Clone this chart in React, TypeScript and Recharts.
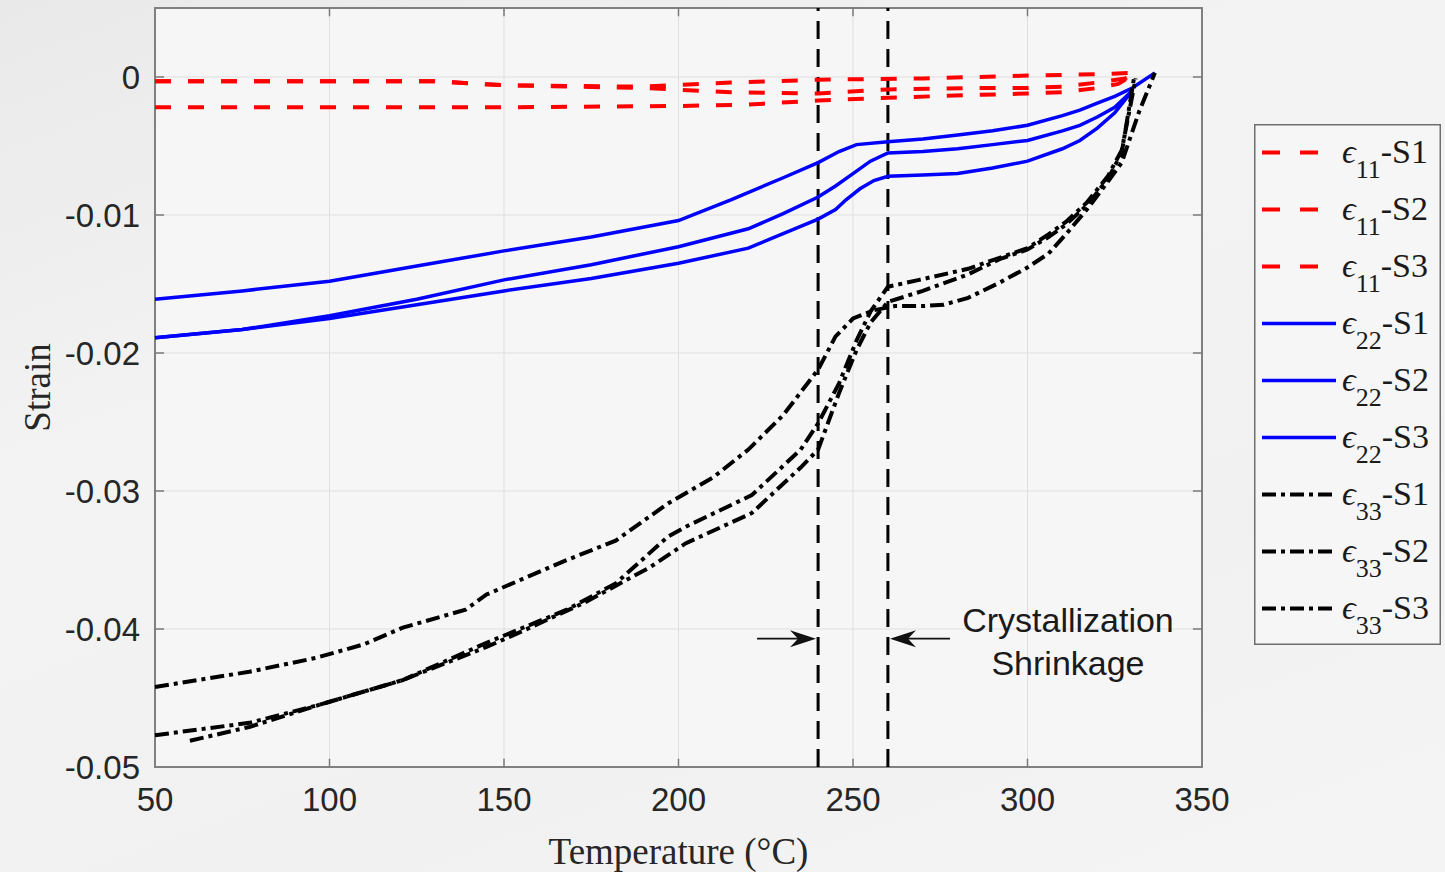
import React from "react";
import { LineChart, Line, XAxis, YAxis, CartesianGrid, ReferenceLine, ReferenceArea, ReferenceDot } from "recharts";

const xTicks = [50, 100, 150, 200, 250, 300, 350];
const yTicks = [-0.05, -0.04, -0.03, -0.02, -0.01, 0];

// e11 (red, dashed)
const e11S1T = [50, 100, 130, 150, 190, 215, 240, 270, 300, 320, 330];
const e11S1 = [-0.0003, -0.0003, -0.0003, -0.0006, -0.0007, -0.0004, -0.0002, -0.0001, 0.0001, 0.0002, 0.0003];
const e11S2T = [50, 100, 130, 150, 190, 215, 240, 260, 285, 300, 310, 320, 328, 330];
const e11S2 = [-0.0003, -0.0003, -0.0003, -0.0006, -0.0008, -0.0011, -0.0012, -0.0009, -0.0008, -0.0008, -0.0007, -0.0004, -0.0001, 0.0002];
const e11S3T = [50, 100, 150, 200, 220, 240, 260, 285, 300, 310, 320, 326, 330];
const e11S3 = [-0.0022, -0.0022, -0.0022, -0.0021, -0.002, -0.0017, -0.0015, -0.0013, -0.0012, -0.0011, -0.0008, -0.0005, 0.0001];

// e22 (blue, solid)
const e22S1T = [50, 75, 100, 125, 150, 175, 200, 215, 230, 240, 246, 251, 260, 270, 280, 290, 300, 310, 315, 320, 325, 330, 336.5];
const e22S1 = [-0.0161, -0.0155, -0.0148, -0.0137, -0.0126, -0.0116, -0.0104, -0.0089, -0.0073, -0.0062, -0.0054, -0.0049, -0.0047, -0.0045, -0.0042, -0.0039, -0.0035, -0.0028, -0.0024, -0.0019, -0.0014, -0.0008, 0.0003];
const e22S2T = [50, 75, 100, 125, 150, 175, 200, 220, 230, 240, 245, 250, 255, 260, 270, 280, 290, 300, 310, 315, 320, 325, 330];
const e22S2 = [-0.0189, -0.0183, -0.0173, -0.0161, -0.0147, -0.0136, -0.0123, -0.011, -0.0099, -0.0087, -0.0079, -0.007, -0.0061, -0.0055, -0.0054, -0.0052, -0.0049, -0.0046, -0.0039, -0.0035, -0.0029, -0.0022, -0.001];
const e22S3T = [50, 75, 100, 125, 150, 175, 200, 220, 240, 245, 248, 252, 256, 260, 270, 280, 290, 300, 310, 315, 320, 325, 330];
const e22S3 = [-0.0189, -0.0183, -0.0175, -0.0165, -0.0155, -0.0146, -0.0135, -0.0124, -0.0103, -0.0096, -0.0089, -0.0081, -0.0075, -0.0072, -0.0071, -0.007, -0.0066, -0.0061, -0.0052, -0.0046, -0.0037, -0.0026, -0.001];

// e33 (black, dash-dot)
const e33S1T = [50, 77, 96, 110, 121, 139, 145, 168, 182, 197, 210, 220, 230, 240, 245, 250, 256, 262, 270, 276, 283, 292, 300, 306, 311, 317, 323, 327, 332, 336.5];
const e33S1 = [-0.0442, -0.0431, -0.0421, -0.0411, -0.0399, -0.0386, -0.0375, -0.035, -0.0336, -0.0309, -0.029, -0.027, -0.0245, -0.0212, -0.0188, -0.0175, -0.0169, -0.0166, -0.0166, -0.0165, -0.016, -0.0149, -0.0138, -0.0128, -0.0114, -0.0096, -0.0076, -0.0062, -0.0025, 0.0003];
const e33S2T = [50, 77, 97, 121, 145, 168, 182, 197, 202, 221, 235, 240, 246, 251, 255, 260, 269, 283, 292, 300, 306, 311, 317, 323, 327, 331];
const e33S2 = [-0.0477, -0.0468, -0.0455, -0.0437, -0.041, -0.0386, -0.0367, -0.0333, -0.0326, -0.0303, -0.027, -0.0251, -0.0222, -0.0191, -0.017, -0.0152, -0.0147, -0.0139, -0.0131, -0.0124, -0.0114, -0.0105, -0.0091, -0.0072, -0.0053, -0.0001];
const e33S3T = [60, 77, 97, 121, 145, 154, 173, 192, 202, 221, 235, 240, 246, 251, 255, 260, 265, 270, 283, 292, 300, 306, 311, 317, 323, 327, 330.5];
const e33S3 = [-0.0481, -0.0471, -0.0455, -0.0437, -0.0413, -0.0403, -0.0381, -0.0355, -0.0338, -0.0316, -0.0283, -0.027, -0.0229, -0.0198, -0.0178, -0.0163, -0.0159, -0.0155, -0.0143, -0.0132, -0.0125, -0.0116, -0.0107, -0.0093, -0.0074, -0.0055, -0.0001];

const shrinkStart = 240;
const shrinkEnd = 260;

const RED = "#ff0000";
const BLUE = "#0000ff";
const BLACK = "#000000";

const pts = (t: number[], v: number[]) => t.map((x, i) => ({ t: x, v: v[i] }));

const series = [
  { name: "11-S1", data: pts(e11S1T, e11S1), color: RED, dash: "16 17", width: 4, legendDash: "18 20", legendLen: 56 },
  { name: "11-S2", data: pts(e11S2T, e11S2), color: RED, dash: "16 17", width: 4, legendDash: "18 20", legendLen: 56 },
  { name: "11-S3", data: pts(e11S3T, e11S3), color: RED, dash: "16 17", width: 4, legendDash: "18 20", legendLen: 56 },
  { name: "22-S1", data: pts(e22S1T, e22S1), color: BLUE, dash: undefined, width: 3.5, legendDash: undefined, legendLen: 74 },
  { name: "22-S2", data: pts(e22S2T, e22S2), color: BLUE, dash: undefined, width: 3.5, legendDash: undefined, legendLen: 74 },
  { name: "22-S3", data: pts(e22S3T, e22S3), color: BLUE, dash: undefined, width: 3.5, legendDash: undefined, legendLen: 74 },
  { name: "33-S1", data: pts(e33S1T, e33S1), color: BLACK, dash: "14 5 4 5", width: 4, legendDash: "14 5 4 5", legendLen: 70 },
  { name: "33-S2", data: pts(e33S2T, e33S2), color: BLACK, dash: "14 5 4 5", width: 4, legendDash: "14 5 4 5", legendLen: 70 },
  { name: "33-S3", data: pts(e33S3T, e33S3), color: BLACK, dash: "14 5 4 5", width: 4, legendDash: "14 5 4 5", legendLen: 70 },
];

const SANS = "'Liberation Sans', Arial, Helvetica, sans-serif";
const SERIF = "'Liberation Serif', 'Times New Roman', 'DejaVu Serif', serif";

// arrow with notched head, drawn from segment end points
function Arrow(props: any) {
  const { x1, y1, x2, y2 } = props;
  if (x1 == null || x2 == null) return null;
  const ang = Math.atan2(y2 - y1, x2 - x1);
  const ux = Math.cos(ang);
  const uy = Math.sin(ang);
  const L = 26;
  const W = 8.5;
  const bx = x2 - ux * L;
  const by = y2 - uy * L;
  const nx = x2 - ux * (L - 8);
  const ny = y2 - uy * (L - 8);
  const head = `${x2},${y2} ${bx - uy * W},${by + ux * W} ${nx},${ny} ${bx + uy * W},${by - ux * W}`;
  return (
    <g>
      <line x1={x1} y1={y1} x2={nx} y2={ny} stroke="#111" strokeWidth={1.6} />
      <polygon points={head} fill="#111" />
    </g>
  );
}

function NoteText(props: any) {
  const { cx, cy } = props;
  return (
    <text x={cx} y={cy} textAnchor="middle" fontFamily={SANS} fontSize={34} fill="#1a1a1a">
      <tspan x={cx}>Crystallization</tspan>
      <tspan x={cx} dy={43}>Shrinkage</tspan>
    </text>
  );
}

function LegendBox() {
  return (
    <svg
      width={187}
      height={521}
      style={{ position: "absolute", left: 1254, top: 124, background: "#f6f6f6" }}
    >
      <rect x={0.75} y={0.75} width={185.5} height={519.5} fill="none" stroke="#6e6e6e" strokeWidth={1.5} />
      {series.map((s, i) => {
        const cy = 28.5 + i * 57;
        return (
          <g key={s.name}>
            <line
              x1={8}
              x2={8 + s.legendLen}
              y1={cy}
              y2={cy}
              stroke={s.color}
              strokeWidth={s.width}
              strokeDasharray={s.legendDash}
            />
            <text x={88} y={cy + 10} fontFamily={SERIF} fontSize={34} fill="#1a1a1a">
              <tspan fontStyle="italic">ϵ</tspan>
              <tspan fontSize={26} dy={15}>{s.name.slice(0, 2)}</tspan>
              <tspan fontSize={34} dy={-15}>{s.name.slice(2)}</tspan>
            </text>
          </g>
        );
      })}
    </svg>
  );
}

const dx = 2.6;
const dy = 0.0006;

export default function App() {
  return (
    <div
      style={{
        position: "absolute",
        left: 0,
        top: 0,
        width: 1445,
        height: 872,
        overflow: "hidden",
        background: "linear-gradient(160deg, #e9e9e9 0%, #f3f3f3 35%, #f1f1f1 70%, #f4f4f4 100%)",
      }}
    >
      <LineChart width={1445} height={872} margin={{ top: 8, right: 243, bottom: 0, left: 0 }}>
        <CartesianGrid
          stroke="#dfdfdf"
          strokeWidth={1}
          fill="#f6f6f6"
          verticalValues={xTicks}
          horizontalValues={yTicks}
        />
        <XAxis
          dataKey="t"
          type="number"
          domain={[50, 350]}
          ticks={xTicks}
          allowDuplicatedCategory={false}
          axisLine={false}
          tickLine={false}
          tickSize={0}
          tickMargin={21}
          height={105}
          tick={{ fontFamily: SANS, fontSize: 33, fill: "#262626" }}
          label={{
            value: "Temperature (°C)",
            position: "insideBottom",
            offset: 8,
            style: { fontFamily: SERIF, fontSize: 37, fill: "#262626" },
          }}
        />
        <YAxis
          type="number"
          domain={[-0.05, 0.005]}
          ticks={yTicks}
          allowDataOverflow
          axisLine={false}
          tickLine={false}
          tickSize={0}
          tickMargin={15}
          width={155}
          tick={{ fontFamily: SANS, fontSize: 33, fill: "#262626" }}
          label={{
            value: "Strain",
            angle: -90,
            position: "insideLeft",
            offset: 37,
            style: { fontFamily: SERIF, fontSize: 37, fill: "#262626", textAnchor: "middle" },
          }}
        />

        {/* inner tick marks */}
        {xTicks.slice(1, -1).map((x) => (
          <ReferenceLine key={"tb" + x} segment={[{ x, y: -0.05 }, { x, y: -0.05 + dy }]} stroke="#7a7a7a" strokeWidth={1.5} />
        ))}
        {xTicks.slice(1, -1).map((x) => (
          <ReferenceLine key={"tt" + x} segment={[{ x, y: 0.005 }, { x, y: 0.005 - dy }]} stroke="#7a7a7a" strokeWidth={1.5} />
        ))}
        {yTicks.slice(1).map((y) => (
          <ReferenceLine key={"tl" + y} segment={[{ x: 50, y }, { x: 50 + dx, y }]} stroke="#7a7a7a" strokeWidth={1.5} />
        ))}
        {yTicks.slice(1).map((y) => (
          <ReferenceLine key={"tr" + y} segment={[{ x: 350, y }, { x: 350 - dx, y }]} stroke="#7a7a7a" strokeWidth={1.5} />
        ))}

        <ReferenceLine x={shrinkStart} stroke="#000" strokeWidth={3} strokeDasharray="18 10" />
        <ReferenceLine x={shrinkEnd} stroke="#000" strokeWidth={3} strokeDasharray="18 10" />

        {series.map((s) => (
          <Line
            key={s.name}
            name={s.name}
            data={s.data}
            dataKey="v"
            type="linear"
            stroke={s.color}
            strokeWidth={s.width}
            strokeDasharray={s.dash}
            dot={false}
            activeDot={false}
            isAnimationActive={false}
          />
        ))}

        <ReferenceLine segment={[{ x: 222.5, y: -0.0407 }, { x: 239.4, y: -0.0407 }]} shape={<Arrow />} />
        <ReferenceLine segment={[{ x: 277.8, y: -0.0407 }, { x: 260.6, y: -0.0407 }]} shape={<Arrow />} />
        <ReferenceDot x={311.6} y={-0.0402} r={0} shape={<NoteText />} />

        <ReferenceArea x1={50} x2={350} y1={-0.05} y2={0.005} fill="none" fillOpacity={0} stroke="#808080" strokeWidth={2} />
      </LineChart>
      <LegendBox />
    </div>
  );
}
